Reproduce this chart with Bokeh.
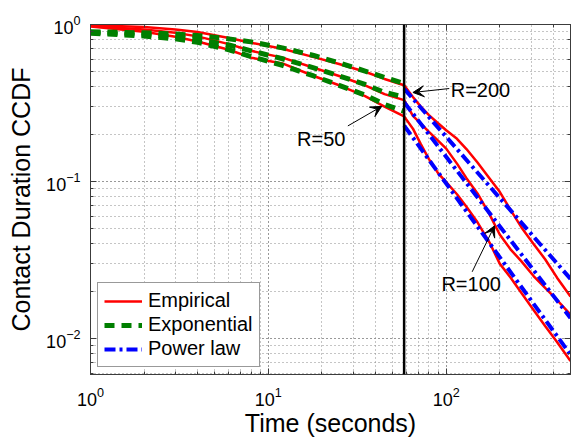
from bokeh.plotting import figure
from bokeh.models import (Range1d, LogAxis, Span, Arrow, VeeHead, Label,
                          Legend, LegendItem)
from bokeh.embed import file_html
from bokeh.resources import INLINE

# ---------------- data ----------------
t_split = 58  # boundary between exponential and power-law fits

t_fit = [1, 2, 3, 4, 6, 8, 12, 18, 25, 35, 45, 58]
t_emp = [1, 2, 3, 4, 6, 8, 12, 18, 25, 35, 45, 58,
         65, 72, 80, 90, 100, 115, 130, 150, 175, 200, 230, 265, 310, 360, 420, 500]

emp_r200 = [0.99, 0.965, 0.93, 0.895, 0.82, 0.765, 0.70, 0.62, 0.56, 0.50, 0.45, 0.41,
            0.345, 0.30, 0.265, 0.235, 0.212, 0.187, 0.161, 0.132, 0.105, 0.086, 0.066,
            0.051, 0.040, 0.032, 0.0244, 0.0185]
emp_r100 = [0.98, 0.93, 0.885, 0.84, 0.75, 0.68, 0.615, 0.53, 0.47, 0.41, 0.36, 0.33,
            0.262, 0.234, 0.207, 0.182, 0.162, 0.130, 0.105, 0.084, 0.062, 0.046, 0.037,
            0.031, 0.025, 0.021, 0.0176, 0.0142]
emp_r50 = [0.97, 0.90, 0.835, 0.78, 0.69, 0.615, 0.565, 0.47, 0.41, 0.35, 0.30, 0.26,
           0.217, 0.173, 0.139, 0.113, 0.099, 0.083, 0.069, 0.055, 0.041, 0.030, 0.0245,
           0.0195, 0.0152, 0.012, 0.0095, 0.0072]

exp_r200 = [0.90, 0.885, 0.87, 0.85, 0.81, 0.775, 0.71, 0.635, 0.57, 0.505, 0.46, 0.42]
exp_r100 = [0.89, 0.865, 0.835, 0.80, 0.74, 0.68, 0.605, 0.53, 0.47, 0.415, 0.37, 0.345]
exp_r50 = [0.88, 0.845, 0.81, 0.77, 0.69, 0.625, 0.55, 0.47, 0.41, 0.355, 0.31, 0.28]

t_pow = [58, 500]
pow_r200 = [0.39, 0.024]
pow_r100 = [0.32, 0.0135]
pow_r50 = [0.227, 0.0079]

FONT = "Liberation Sans"
RED = "#ff0000"
GREEN = "#007f00"
BLUE = "#0000ff"
AX = "#3c3c3c"

p = figure(width=573, height=439, x_axis_type="log", y_axis_type="log",
           x_range=Range1d(1, 500), y_range=Range1d(0.0059, 1),
           output_backend="svg", toolbar_location=None,
           min_border_left=90, min_border_right=3, min_border_top=24,
           min_border_bottom=60)

# grid
for g in (p.xgrid[0], p.ygrid[0]):
    g.grid_line_color = "#8a8a8a"
    g.grid_line_dash = "1 3"
    g.grid_line_width = 1
    g.minor_grid_line_color = "#8a8a8a"
    g.minor_grid_line_dash = "1 3"
    g.minor_grid_line_width = 1

p.outline_line_color = AX
p.outline_line_width = 1


def style_axis(ax):
    ax.major_tick_in = 6
    ax.major_tick_out = 0
    ax.minor_tick_in = 3
    ax.minor_tick_out = 0
    ax.axis_line_color = AX
    ax.major_tick_line_color = AX
    ax.minor_tick_line_color = AX
    ax.major_label_text_font = FONT
    ax.major_label_text_font_size = "18px"
    ax.major_label_text_color = "black"
    ax.axis_label_text_font = FONT
    ax.axis_label_text_font_size = "25px"
    ax.axis_label_text_font_style = "normal"
    ax.axis_label_text_color = "black"


style_axis(p.xaxis[0])
style_axis(p.yaxis[0])
p.xaxis.axis_label = "Time (seconds)"
p.yaxis.axis_label = "Contact Duration CCDF"
p.xaxis.major_label_standoff = 12
p.yaxis.major_label_standoff = 10
p.xaxis.axis_label_standoff = 0
p.yaxis.axis_label_standoff = 8

for loc in ("above", "right"):
    ax = LogAxis()
    style_axis(ax)
    ax.major_label_text_font_size = "1px"
    ax.major_label_text_alpha = 0
    ax.major_label_standoff = 0
    p.add_layout(ax, loc)

# curves
r_e = []
for c in (emp_r200, emp_r100, emp_r50):
    r_e.append(p.line(t_emp, c, line_color=RED, line_width=2.5))
r_x = []
for c in (exp_r200, exp_r100, exp_r50):
    r_x.append(p.line(t_fit, c, line_color=GREEN, line_width=5, line_dash="10 7"))
r_p = []
for c in (pow_r200, pow_r100, pow_r50):
    r_p.append(p.line(t_pow, c, line_color=BLUE, line_width=4, line_dash="11 4 3 4"))

p.add_layout(Span(location=t_split, dimension="height", line_color="black", line_width=2.5))

# annotations
def arrow(xs, ys, xe, ye):
    p.add_layout(Arrow(end=VeeHead(size=11, fill_color="black", line_color="black", line_width=1),
                       x_start=xs, y_start=ys, x_end=xe, y_end=ye,
                       line_color="black", line_width=1))


arrow(104, 0.391, 65, 0.369)
arrow(28, 0.226, 43.4, 0.301)
arrow(140, 0.0266, 187, 0.0522)

for (x, y, txt) in ((106, 0.38, "R=200"), (14.5, 0.187, "R=50"), (94, 0.0222, "R=100")):
    p.add_layout(Label(x=x, y=y, text=txt, text_font=FONT, text_font_size="20px",
                       text_baseline="middle", text_align="left", text_color="black"))

legend = Legend(items=[LegendItem(label="Empirical", renderers=[r_e[0]]),
                       LegendItem(label="Exponential", renderers=[r_x[0]]),
                       LegendItem(label="Power law", renderers=[r_p[0]])],
                location=(7, 7))
legend.border_line_color = "#333333"
legend.border_line_width = 1
legend.background_fill_color = "white"
legend.background_fill_alpha = 1
legend.label_text_font = FONT
legend.label_text_font_size = "20px"
legend.label_text_color = "black"
legend.glyph_width = 38
legend.glyph_height = 22
legend.label_height = 22
legend.padding = 6
legend.spacing = 1
legend.margin = 0
legend.label_standoff = 6
p.add_layout(legend)

open("out.html", "w").write(file_html(p, INLINE))
